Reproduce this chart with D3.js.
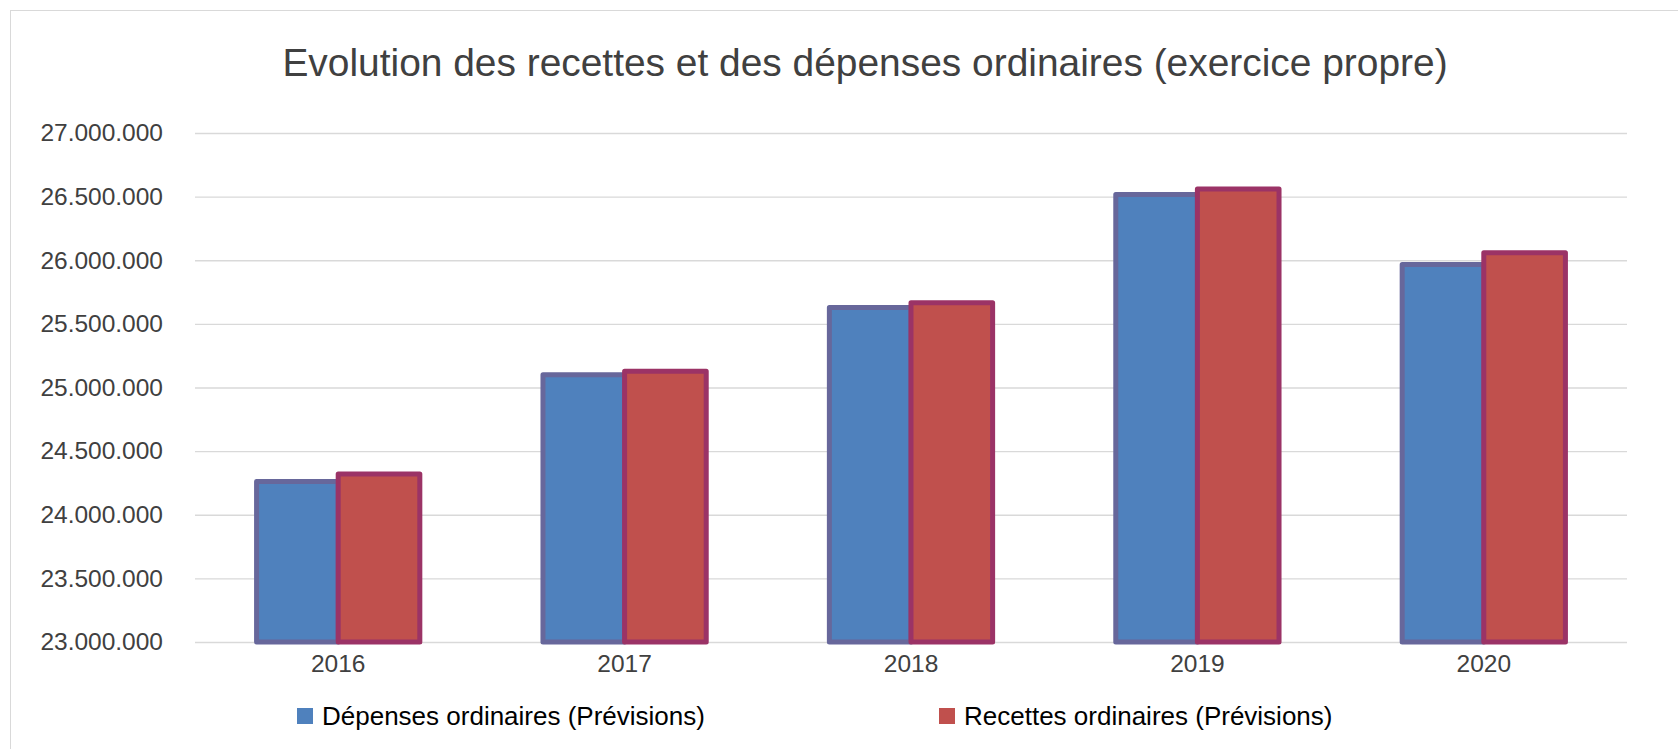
<!DOCTYPE html>
<html>
<head>
<meta charset="utf-8">
<script src="https://cdn.jsdelivr.net/npm/d3@7"></script>
<style>
    html, body { margin: 0; padding: 0; background: #ffffff; overflow: hidden; }
    svg { display: block; font-family: "Liberation Sans", Arial, sans-serif; }
</style>
</head>
<body>
<div id="chart"></div>
<script>
// chart data
const years = ["2016", "2017", "2018", "2019", "2020"];
const seriesNames = ["Dépenses ordinaires (Prévisions)", "Recettes ordinaires (Prévisions)"];
const depenses = [24262000, 25100000, 25629000, 26517000, 25967000];
const recettes = [24320000, 25128000, 25666000, 26559000, 26059000];
const yTicks = [23000000, 23500000, 24000000, 24500000, 25000000, 25500000, 26000000, 26500000, 27000000];
const chartTitle = "Evolution des recettes et des dépenses ordinaires (exercice propre)";

const fillColors = ["#4f81bd", "#c0504d"];
const strokeColors = ["#67679b", "#9b3366"];

const width = 1678, height = 749;
const plot = { left: 195, right: 1627, top: 133, bottom: 642 };

const svg = d3.select("#chart").append("svg")
    .attr("width", width)
    .attr("height", height);

// chart frame (right and bottom edges fall outside the window)
svg.append("rect")
    .attr("x", 10.5)
    .attr("y", 10.5)
    .attr("width", 1800)
    .attr("height", 900)
    .attr("fill", "none")
    .attr("stroke", "#d9d9d9")
    .attr("stroke-width", 1);

svg.append("text")
    .attr("x", 865)
    .attr("y", 76)
    .attr("text-anchor", "middle")
    .attr("fill", "#404040")
    .style("font-size", "38.9px")
    .text(chartTitle);

const fr = d3.formatLocale({ decimal: ",", thousands: ".", grouping: [3], currency: ["", " €"] });
const fmt = fr.format(",.0f");

const y = d3.scaleLinear()
    .domain([23000000, 27000000])
    .range([plot.bottom, plot.top]);

const x0 = d3.scaleBand()
    .domain(years)
    .range([plot.left, plot.right])
    .paddingInner(0.43)
    .paddingOuter(0.215);

const x1 = d3.scaleBand()
    .domain([0, 1])
    .range([0, x0.bandwidth()]);

// gridlines + y labels
let yAxis = d3.axisLeft(y)
    .tickValues(yTicks)
    .tickSize(-(plot.right - plot.left))
    .tickPadding(32)
    .tickFormat(fmt);

let gy = svg.append("g")
    .attr("transform", "translate(" + plot.left + ",0)")
    .call(yAxis);
gy.select(".domain").remove();
gy.selectAll(".tick line")
    .attr("stroke", "#d9d9d9")
    .attr("stroke-width", 1.3);
gy.selectAll(".tick text")
    .attr("fill", "#404040")
    .style("font-size", "24.5px")
    .attr("font-family", null);

// x labels
let xAxis = d3.axisBottom(x0).tickSize(0).tickPadding(13);
let gx = svg.append("g")
    .attr("transform", "translate(0," + plot.bottom + ")")
    .call(xAxis);
gx.select(".domain").remove();
gx.selectAll(".tick text")
    .attr("fill", "#404040")
    .style("font-size", "24.5px")
    .attr("font-family", null);

// bars
const seriesData = [depenses, recettes];
seriesData.forEach(function (values, s) {
    svg.append("g").selectAll("rect")
        .data(values)
        .enter()
        .append("rect")
        .attr("x", function (d, i) { return x0(years[i]) + x1(s); })
        .attr("y", function (d) { return y(d); })
        .attr("width", x1.bandwidth())
        .attr("height", function (d) { return y(23000000) - y(d); })
        .attr("fill", fillColors[s])
        .attr("stroke", strokeColors[s])
        .attr("stroke-width", 5)
        .attr("stroke-linejoin", "round");
});

// legend
const legendX = [297, 939];
let legend = svg.append("g")
    .selectAll("g")
    .data(seriesNames)
    .enter()
    .append("g")
    .attr("transform", function (d, i) { return "translate(" + legendX[i] + ",708)"; });

legend.append("rect")
    .attr("width", 16)
    .attr("height", 16)
    .attr("fill", function (d, i) { return fillColors[i]; });

legend.append("text")
    .attr("x", 25)
    .attr("y", 17)
    .attr("fill", "#000000")
    .style("font-size", "26px")
    .text(function (d) { return d; });
</script>
</body>
</html>
